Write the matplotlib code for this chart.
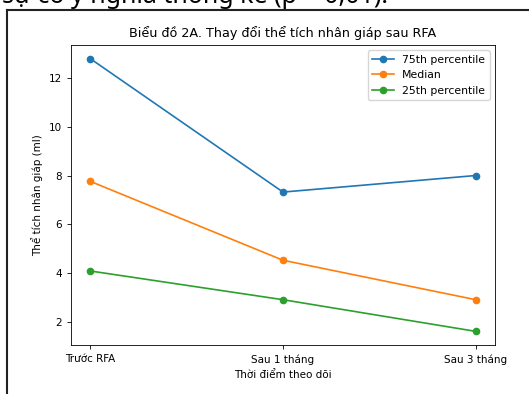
import matplotlib.pyplot as plt
from matplotlib.lines import Line2D

# Data
timepoints = ["Trước RFA", "Sau 1 tháng", "Sau 3 tháng"]
p75 = [12.8, 7.32, 8.0]
median = [7.76, 4.52, 2.9]
p25 = [4.08, 2.9, 1.6]

fig = plt.figure(figsize=(5.29, 3.94), dpi=100)

# cropped document text above the chart
fig.text(388 / 529, 1 - 3 / 394, "sự có ý nghĩa thống kê (p < 0,01).",
         ha="right", va="baseline", fontsize=18, family="Noto Sans")

# frame of the embedded image
fig.add_artist(Line2D([6.5 / 529, 6.5 / 529], [0, 1 - 10 / 394],
                      color="#222222", lw=1.5, transform=fig.transFigure))
fig.add_artist(Line2D([6.5 / 529, 1], [1 - 10 / 394, 1 - 10 / 394],
                      color="#222222", lw=1.5, transform=fig.transFigure))

ax = fig.add_axes([71 / 529, 1 - 345 / 394, 424 / 529, 300 / 394])

x = range(len(timepoints))
ax.plot(x, p75, marker="o", ms=4.5, lw=1.2, label="75th percentile")
ax.plot(x, median, marker="o", ms=4.5, lw=1.2, label="Median")
ax.plot(x, p25, marker="o", ms=4.5, lw=1.2, label="25th percentile")

ax.set_xticks(list(x))
ax.set_xticklabels(timepoints)
ax.tick_params(labelsize=7.5, length=3, width=0.6)
for s in ax.spines.values():
    s.set_linewidth(0.6)

ax.set_title("Biểu đồ 2A. Thay đổi thể tích nhân giáp sau RFA", fontsize=9.2)
ax.set_xlabel("Thời điểm theo dõi", fontsize=7.5)
ax.set_ylabel("Thể tích nhân giáp (ml)", fontsize=7.5)
ax.legend(loc="upper right", fontsize=7.8)

fig.savefig("out.png", dpi=100)
